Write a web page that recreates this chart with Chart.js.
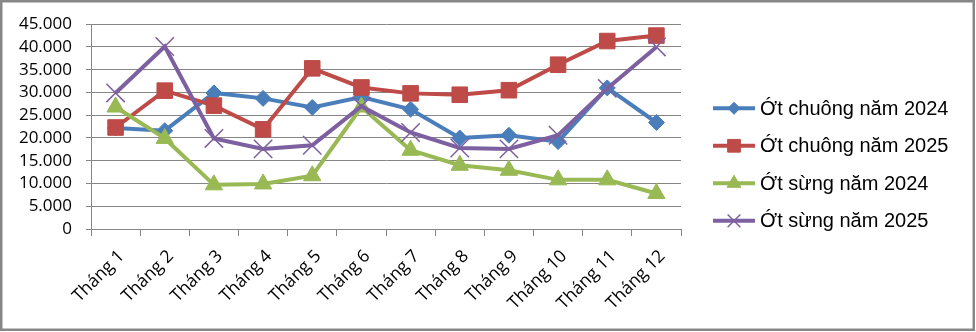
<!DOCTYPE html>
<html><head><meta charset="utf-8">
<script src="https://cdn.jsdelivr.net/npm/chart.js@4.4.0/dist/chart.umd.min.js"></script>
<style>html,body{margin:0;padding:0;background:#fff;} #wrap{width:976px;height:332px;position:relative;}</style>
</head><body><div id="wrap"><canvas id="c" width="976" height="332"></canvas></div>
<script>
// ---- data ----
const months = ['Tháng 1','Tháng 2','Tháng 3','Tháng 4','Tháng 5','Tháng 6','Tháng 7','Tháng 8','Tháng 9','Tháng 10','Tháng 11','Tháng 12'];
const seriesLabels = ['Ớt chuông năm 2024','Ớt chuông năm 2025','Ớt sừng năm 2024','Ớt sừng năm 2025'];
const chuong2024 = [22200, 21600, 29900, 28700, 26700, 29000, 26300, 20000, 20600, 19200, 31000, 23400];
const chuong2025 = [22300, 30400, 27100, 21900, 35300, 31100, 29800, 29500, 30500, 36100, 41300, 42500];
const sung2024   = [26800, 19900,  9700,  9900, 11700, 26800, 17300, 14000, 12900, 10800, 10800,  7800];
const sung2025   = [29900, 40100, 19900, 17600, 18400, 27000, 21200, 17800, 17600, 20600, 30900, 40000];
const yTickValues = [0, 5000, 10000, 15000, 20000, 25000, 30000, 35000, 40000, 45000];

// ---- styles ----
const colors = ['#4A7EBB', '#BE4B48', '#98B954', '#7D60A0'];
const markerStyles = ['rectRot', 'rect', 'triangle', 'crossRot'];
const markerRadius = [8, 11, 10, 13];
const legendMarkerRadius = [6, 9, 8, 9];
const GRID = '#868686';

function fmt(v){ return String(v).replace(/\B(?=(\d{3})+(?!\d))/g, '.'); }

const allData = [chuong2024, chuong2025, sung2024, sung2025];
const datasets = allData.map((d, i) => ({
  label: seriesLabels[i],
  data: d,
  borderColor: colors[i],
  backgroundColor: colors[i],
  borderWidth: 4,
  tension: 0,
  pointStyle: markerStyles[i],
  pointRadius: markerRadius[i],
  pointHoverRadius: markerRadius[i],
  pointBackgroundColor: colors[i],
  pointBorderColor: colors[i],
  pointBorderWidth: i === 3 ? 1.5 : 1,
  order: 4 - i,
  clip: false
}));

const frame = {
  id: 'frame',
  beforeDraw(chart){
    const ctx = chart.ctx;
    ctx.save();
    ctx.fillStyle = '#fff';
    ctx.fillRect(0, 0, chart.width, chart.height);
    ctx.restore();
  },
  afterDraw(chart){
    const ctx = chart.ctx;
    ctx.save();
    ctx.strokeStyle = '#878787';
    ctx.lineWidth = 2.5;
    ctx.strokeRect(1.25, 1.25, 972.5, 328.5);
    ctx.restore();
  }
};

const customLegend = {
  id: 'customLegend',
  afterDraw(chart){
    const ctx = chart.ctx;
    const x0 = 713, x1 = 755, tx = 760, y0 = 108.3, dy = 37.5;
    ctx.save();
    chart.data.datasets.forEach((ds, i) => {
      const y = y0 + i * dy;
      ctx.strokeStyle = ds.borderColor;
      ctx.lineWidth = 4;
      ctx.beginPath(); ctx.moveTo(x0, y); ctx.lineTo(x1, y); ctx.stroke();
      ctx.fillStyle = ds.pointBackgroundColor;
      ctx.strokeStyle = ds.pointBorderColor;
      ctx.lineWidth = ds.pointBorderWidth;
      Chart.helpers.drawPoint(ctx, {pointStyle: ds.pointStyle, radius: legendMarkerRadius[i], borderWidth: ds.pointBorderWidth, rotation: 0}, (x0 + x1) / 2, y);
      ctx.fillStyle = '#000';
      ctx.font = '20px "Liberation Sans", Arial, sans-serif';
      ctx.textBaseline = 'middle';
      ctx.textAlign = 'left';
      ctx.fillText(ds.label, tx, y + 1);
    });
    ctx.restore();
  }
};

new Chart(document.getElementById('c'), {
  type: 'line',
  data: { labels: months, datasets },
  options: {
    responsive: false,
    animation: false,
    devicePixelRatio: 1,
    layout: { padding: { left: 0, top: 24, right: 295, bottom: 0 } },
    plugins: { legend: { display: false }, tooltip: { enabled: false } },
    scales: {
      x: {
        offset: true,
        afterFit(s){ s.height = 103; },
        grid: { display: true, drawOnChartArea: false, drawTicks: true, offset: true, tickLength: 7, color: GRID, lineWidth: 1 },
        border: { display: true, color: GRID, width: 1 },
        ticks: { autoSkip: false, minRotation: 45, maxRotation: 45, padding: 10, labelOffset: 6, color: '#000', font: { family: '"Open Sans", sans-serif', size: 17.5 } }
      },
      y: {
        min: 0, max: 45000,
        afterFit(s){ s.width = 91; },
        afterBuildTicks(s){ s.ticks = yTickValues.map(v => ({ value: v })); },
        grid: { color: GRID, lineWidth: 1, tickLength: 5, drawTicks: true },
        border: { display: true, color: GRID, width: 1 },
        ticks: { autoSkip: false, padding: 14, color: '#000', font: { family: '"Open Sans", sans-serif', size: 17 }, callback: v => fmt(v) }
      }
    }
  },
  plugins: [frame, customLegend]
});
</script></body></html>
